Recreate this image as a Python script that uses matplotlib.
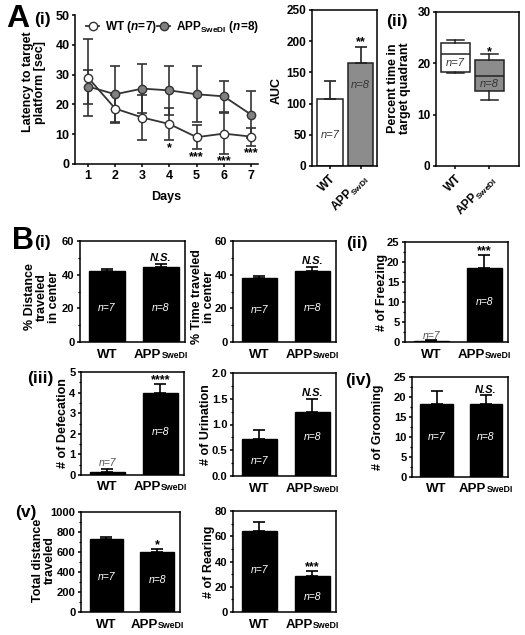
import matplotlib
matplotlib.use('Agg')
import matplotlib.pyplot as plt
from matplotlib.ticker import AutoMinorLocator, MultipleLocator, FormatStrFormatter
from matplotlib.transforms import offset_copy

plt.rcParams['font.family'] = ['Liberation Sans', 'DejaVu Sans']
plt.rcParams['font.weight'] = 'bold'
plt.rcParams['mathtext.fontset'] = 'custom'
plt.rcParams['mathtext.rm'] = 'Liberation Sans'
plt.rcParams['mathtext.it'] = 'Liberation Sans:italic'
plt.rcParams['mathtext.bf'] = 'Liberation Sans:bold'
plt.rcParams['axes.linewidth'] = 1.1
plt.rcParams['xtick.major.width'] = 1.1
plt.rcParams['ytick.major.width'] = 1.1
plt.rcParams['ytick.minor.width'] = 0.9
plt.rcParams['xtick.major.size'] = 2.5
plt.rcParams['ytick.major.size'] = 2.5
plt.rcParams['ytick.minor.size'] = 1.5
plt.rcParams['xtick.major.pad'] = 2
plt.rcParams['ytick.major.pad'] = 1.5

# ---- data ----
days = [1, 2, 3, 4, 5, 6, 7]
wt_latency = [29.0, 18.6, 15.6, 13.4, 9.0, 10.2, 9.2]
wt_latency_err = [12.9, 4.4, 7.5, 5.5, 4.1, 6.8, 3.0]
app_latency = [26.0, 23.4, 25.3, 24.7, 23.4, 22.7, 16.6]
app_latency_err = [5.7, 9.5, 8.3, 8.3, 9.4, 5.2, 8.0]
latency_stars = ['', '', '', '*', '***', '***', '***']

auc = [107, 165]
auc_err = [29, 26]

# box stats for percent time in target quadrant: (whislo, q1, med, q3, whishi)
quad_wt = [18.2, 18.4, 21.8, 24.0, 24.6]
quad_app = [12.9, 14.7, 17.5, 20.7, 21.9]

dist_center = [42.0, 44.5]
dist_center_err = [1.2, 1.8]
time_center = [38.0, 42.2]
time_center_err = [1.2, 2.4]
freezing = [0.3, 18.4]
freezing_err = [0.15, 3.4]
defecation = [0.15, 3.98]
defecation_err = [0.13, 0.45]
urination = [0.72, 1.25]
urination_err = [0.18, 0.25]
grooming = [18.2, 18.2]
grooming_err = [3.4, 2.2]
total_dist = [727, 603]
total_dist_err = [23, 27]
rearing = [64.1, 28.2]
rearing_err = [7.4, 4.3]

W, H = 525, 635
fig = plt.figure(figsize=(W / 100, H / 100), dpi=100)
renderer = fig.canvas.get_renderer()


def rect(l, t, r, b):
    return [l / W, 1 - b / H, (r - l) / W, (b - t) / H]


def ftext(x, y, s, **kw):
    fig.text(x / W, 1 - y / H, s, ha='center', va='center', fontweight='bold', **kw)


def style_ticks(ax, size=8.5):
    for lab in ax.get_xticklabels() + ax.get_yticklabels():
        lab.set_fontweight('bold')
        lab.set_fontsize(size)


def ylabel_at(ax, box, text, xpx, ypx=None, size=9):
    l, t, r, b = box
    ax.set_ylabel(text, fontsize=size, fontweight='bold', va='center', linespacing=0.95)
    yf = 0.5 if ypx is None else (b - ypx) / (b - t)
    ax.yaxis.set_label_coords((xpx - l) / (r - l), yf)


def group_ticks(ax, base_px=15.5):
    # group names drawn as texts: WT, and APP followed by a small SweDI on the same baseline
    ax.set_xticks([0, 1])
    ax.set_xticklabels(['', ''])
    ax.tick_params(axis='x', length=0)
    base = ax.get_xaxis_transform()
    ax.text(0, 0, 'WT', transform=offset_copy(base, fig=fig, x=0, y=-base_px, units='dots'),
            ha='center', va='baseline', fontsize=9.5, fontweight='bold')
    t1 = ax.text(1, 0, 'APP', ha='left', va='baseline', fontsize=9.5, fontweight='bold')
    t2 = ax.text(1, 0, 'SweDI', ha='left', va='baseline', fontsize=6.3, fontweight='bold')
    w1 = t1.get_window_extent(renderer).width
    w2 = t2.get_window_extent(renderer).width
    x0 = -(w1 + w2) / 2
    t1.set_transform(offset_copy(base, fig=fig, x=x0, y=-base_px, units='dots'))
    t2.set_transform(offset_copy(base, fig=fig, x=x0 + w1 + 0.5, y=-base_px, units='dots'))


# ---- A(i) latency ----
box = (75, 15, 258, 164)
ax = fig.add_axes(rect(*box))
ax.errorbar(days, wt_latency, yerr=wt_latency_err, fmt='none', ecolor='#333333',
            elinewidth=1.2, capsize=3.5, capthick=1.2, zorder=2)
ax.errorbar(days, app_latency, yerr=app_latency_err, fmt='none', ecolor='#333333',
            elinewidth=1.2, capsize=3.5, capthick=1.2, zorder=2)
h1, = ax.plot(days, wt_latency, '-o', color='#333333', mfc='white', mec='#333333',
              ms=6, lw=1.3, zorder=4)
h2, = ax.plot(days, app_latency, '-o', color='#333333', mfc='#808080', mec='#333333',
              ms=6, lw=1.3, zorder=3)
for d, m, e, s in zip(days, wt_latency, wt_latency_err, latency_stars):
    if s:
        ax.text(d, m - e - 0.6, s, ha='center', va='top', fontsize=9, fontweight='bold')
ax.set_xlim(0.52, 7.26)
ax.set_ylim(0, 50)
ax.set_xticks(days)
ax.yaxis.set_major_locator(MultipleLocator(10))
ax.spines['top'].set_visible(False)
ax.spines['right'].set_visible(False)
ax.set_xlabel('Days', fontsize=9, fontweight='bold', labelpad=6)
ylabel_at(ax, box, 'Latency to target\nplatform [sec]', 34, 82)
ax.legend([h1, h2], [r'WT $\mathit{(n\!=\!7)}$', r'APP$_{\mathbf{SweDI}}$ $\mathit{(n\!=\!8)}$'],
          loc='center left', bbox_to_anchor=(0.03, 0.92), ncol=2, frameon=False,
          handlelength=1.1, handletextpad=0.5, columnspacing=0.0, borderpad=0,
          prop={'weight': 'bold', 'size': 8.5})
style_ticks(ax, 9)

# ---- A AUC ----
box = (312, 10, 377, 166)
ax = fig.add_axes(rect(*box))
ax.bar([0, 1], auc, width=0.85, color=['white', '#8c8c8c'], edgecolor='#222222', lw=1.1)
ax.errorbar([0, 1], auc, yerr=[[0, 0], auc_err], fmt='none', ecolor='#222222',
            elinewidth=1.2, capsize=4, capthick=1.2)
ax.annotate('**', (1, auc[1] + auc_err[1]), xytext=(0, 1), textcoords='offset points',
            ha='center', va='baseline', fontsize=9, fontweight='bold')
ax.text(0, 50, 'n=7', ha='center', va='center', fontsize=8, style='italic', fontweight='normal', color='#333333')
ax.text(1, 130, 'n=8', ha='center', va='center', fontsize=8, style='italic', fontweight='normal', color='#333333')
ax.set_xlim(-0.59, 1.54)
ax.set_ylim(0, 250)
ax.yaxis.set_major_locator(MultipleLocator(50))
ax.set_xticks([0, 1])
ax.set_xticklabels(['WT', r'APP$_{\mathrm{SwDI}}$'], rotation=45, ha='right', rotation_mode='anchor')
ylabel_at(ax, box, 'AUC', 277, 90)
style_ticks(ax, 8.5)

# ---- A(ii) box ----
box = (436, 12, 519, 166)
ax = fig.add_axes(rect(*box))
stats = []
for q, lab in zip([quad_wt, quad_app], ['WT', 'APP']):
    stats.append(dict(whislo=q[0], q1=q[1], med=q[2], q3=q[3], whishi=q[4], fliers=[], label=lab))
bp = ax.bxp(stats, positions=[0, 1], widths=0.85, patch_artist=True, showfliers=False,
            boxprops=dict(edgecolor='#222222', lw=1.1),
            medianprops=dict(color='#222222', lw=1.1),
            whiskerprops=dict(color='#222222', lw=1.1),
            capprops=dict(color='#222222', lw=1.1), capwidths=0.5)
for patch, c in zip(bp['boxes'], ['white', '#8c8c8c']):
    patch.set_facecolor(c)
ax.annotate('*', (1, quad_app[4]), xytext=(0, -1), textcoords='offset points',
            ha='center', va='baseline', fontsize=9, fontweight='bold')
ax.text(0, 20.0, 'n=7', ha='center', va='center', fontsize=8, style='italic', fontweight='normal', color='#333333')
ax.text(1, 15.9, 'n=8', ha='center', va='center', fontsize=8, style='italic', fontweight='normal', color='#333333')
ax.set_xlim(-0.56, 1.88)
ax.set_ylim(0, 30)
ax.yaxis.set_major_locator(MultipleLocator(10))
ax.set_xticks([0, 1])
ax.set_xticklabels(['WT', r'APP$_{\mathrm{SweDI}}$'], rotation=45, ha='right', rotation_mode='anchor')
ylabel_at(ax, box, 'Percent time in\ntarget quadrant', 399, 88)
style_ticks(ax, 8.5)


# ---- B bar panels ----
def bar_panel(box, vals, errs, ylim, step, ylabel, label_x, sig, n_y,
              n_color=('white', 'white'), fmt=None, label_y=None):
    ax = fig.add_axes(rect(*box))
    ax.bar([0, 1], vals, width=0.66, color='black', edgecolor='black')
    ax.errorbar([0, 1], vals, yerr=[[0, 0], errs], fmt='none', ecolor='black',
                elinewidth=1.2, capsize=4, capthick=1.2)
    top = vals[1] + errs[1]
    if sig == 'N.S.':
        ax.annotate(sig, (1, top), xytext=(0, 2), textcoords='offset points', ha='center',
                    va='baseline', fontsize=8, fontweight='bold', style='italic')
    else:
        ax.annotate(sig, (1, top), xytext=(0, 0.5), textcoords='offset points', ha='center',
                    va='baseline', fontsize=9, fontweight='bold')
    for i, lab in enumerate(['n=7', 'n=8']):
        ax.text(i, n_y[i], lab, ha='center', va='center', fontsize=7.5, style='italic',
                fontweight='normal', color=n_color[i])
    ax.set_xlim(-0.5, 1.45)
    ax.set_ylim(0, ylim)
    ax.yaxis.set_major_locator(MultipleLocator(step))
    ax.yaxis.set_minor_locator(AutoMinorLocator(2))
    if fmt:
        ax.yaxis.set_major_formatter(fmt)
    style_ticks(ax, 8)
    group_ticks(ax)
    ylabel_at(ax, box, ylabel, label_x, label_y)
    return ax


bar_panel((80, 241, 185, 342), dist_center, dist_center_err, 60, 20,
          '% Distance\ntraveled\nin center', 42, 'N.S.', [20, 20], label_y=297)
bar_panel((233, 241, 336, 342), time_center, time_center_err, 60, 20,
          '% Time traveled\nin center', 203, 'N.S.', [19, 20], label_y=297)
bar_panel((405, 242, 508, 342), freezing, freezing_err, 25, 5,
          '# of Freezing', 382, '***', [1.6, 10], n_color=('#555555', 'white'))
bar_panel((81, 372, 184, 475), defecation, defecation_err, 5, 1,
          '# of Defecation', 63, '****', [0.6, 2.1], n_color=('#555555', 'white'))
bar_panel((233, 373, 336, 476), urination, urination_err, 2.0, 0.5,
          '# of Urination', 206, 'N.S.', [0.3, 0.75], fmt=FormatStrFormatter('%.1f'))
bar_panel((412, 377, 508, 477), grooming, grooming_err, 25, 5,
          '# of Grooming', 378, 'N.S.', [10, 10])
bar_panel((81, 512, 180, 612), total_dist, total_dist_err, 1000, 200,
          'Total distance\ntraveled', 44, '*', [350, 320], label_y=560)
bar_panel((233, 511, 336, 612), rearing, rearing_err, 80, 20,
          '# of Rearing', 209, '***', [33, 12])

# ---- panel letters ----
ftext(18, 19, 'A', fontsize=23)
ftext(42, 19.5, '(i)', fontsize=12.5)
ftext(397, 21.5, '(ii)', fontsize=12.5)
ftext(23, 241, 'B', fontsize=22)
ftext(42, 242, '(i)', fontsize=12.5)
ftext(357, 244, '(ii)', fontsize=12.5)
ftext(40, 379, '(iii)', fontsize=12.5)
ftext(358, 380, '(iv)', fontsize=12.5)
ftext(26, 512, '(v)', fontsize=12.5)

fig.savefig('out.png', dpi=100)
